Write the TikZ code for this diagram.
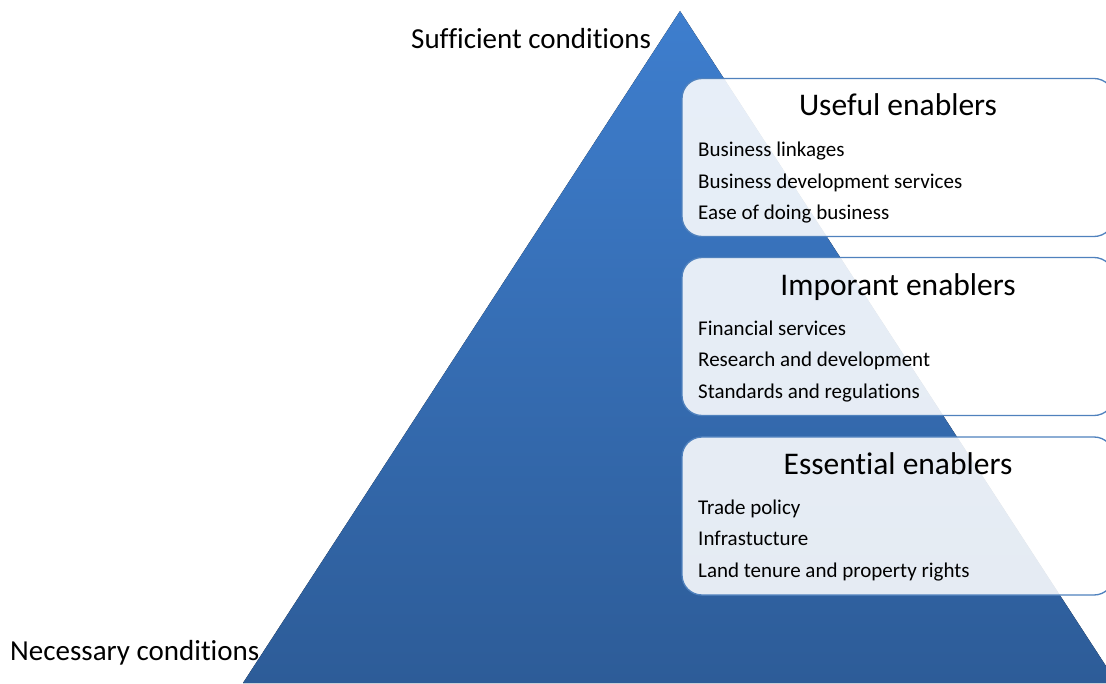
\documentclass[tikz,border=0pt]{standalone}
\usepackage{fontspec}
\setmainfont[Ligatures={NoCommon}]{Carlito}
\definecolor{boxblue}{RGB}{79,129,189}
\definecolor{pyrtop}{RGB}{62,126,206}
\definecolor{pyrbot}{RGB}{45,92,152}
\begin{document}
\begin{tikzpicture}[x=1pt,y=-1pt,
  enabler/.style={draw=boxblue, line width=1.3pt, fill=white, fill opacity=0.88,
    rounded corners=20pt, minimum width=432pt, minimum height=158pt, inner sep=0pt},
  titletext/.style={font=\fontsize{31.5}{36}\selectfont, anchor=base, inner sep=0pt},
  itemtext/.style={font=\fontsize{21}{25}\selectfont, anchor=base west, inner sep=0pt},
  condtext/.style={font=\fontsize{29}{34}\selectfont, anchor=base west, inner sep=0pt}]
\useasboundingbox (0,0) rectangle (1106,684);
\clip (0,0) rectangle (1106,684);
% pyramid
\coordinate (apex) at (680,11);
\coordinate (bl) at (243,683);
\coordinate (br) at (1117,683);
\fill[top color=pyrtop, bottom color=pyrbot] (apex) -- (br) -- (bl) -- cycle;
% conditions
\node[condtext] (suff) at (411,49) {Sufficient conditions};
\node[condtext] (nec) at (10,660) {Necessary conditions};
% boxes
\node[enabler] (b1) at (898,157.5) {};
\node[enabler] (b2) at (898,336.5) {};
\node[enabler] (b3) at (898,516) {};
% box 1
\node[titletext] (t1) at (898,115.5) {Useful enablers};
\node[itemtext] (i11) at (698,157) {Business linkages};
\node[itemtext] (i12) at (698,188.5) {Business development services};
\node[itemtext] (i13) at (698,220) {Ease of doing business};
% box 2
\node[titletext] (t2) at (898,295.5) {Imporant enablers};
\node[itemtext] (i21) at (698,335.5) {Financial services};
\node[itemtext] (i22) at (698,367) {Research and development};
\node[itemtext] (i23) at (698,398.5) {Standards and regulations};
% box 3
\node[titletext] (t3) at (898,474.5) {Essential enablers};
\node[itemtext] (i31) at (698,514) {Trade policy};
\node[itemtext] (i32) at (698,545.5) {Infrastucture};
\node[itemtext] (i33) at (698,577) {Land tenure and property rights};
\end{tikzpicture}
\end{document}
